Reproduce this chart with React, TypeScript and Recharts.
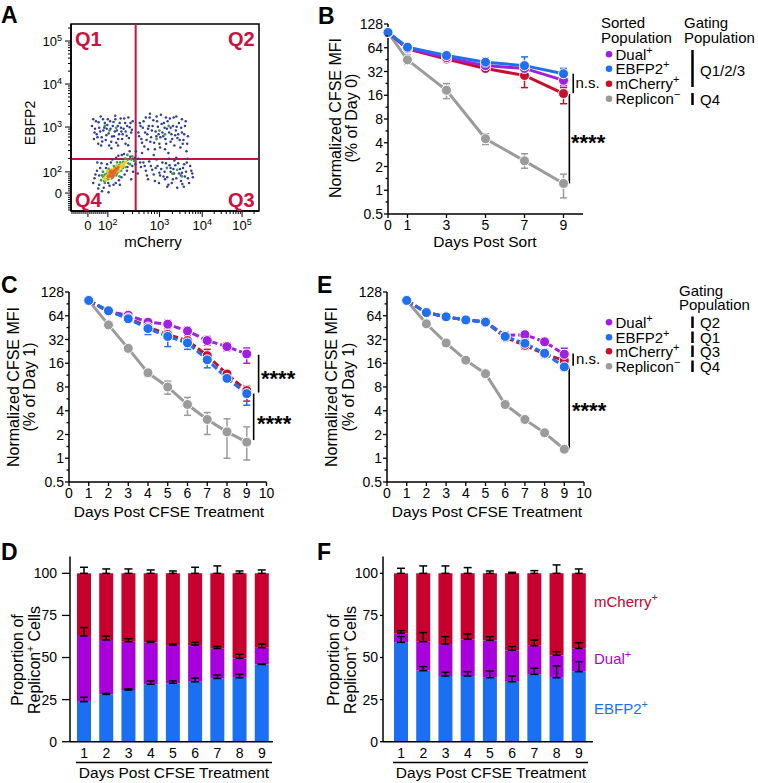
import React from "react";
import {
  LineChart,
  Line,
  XAxis,
  YAxis,
  ErrorBar,
  ReferenceLine,
  ReferenceArea,
  BarChart,
  Bar,
  ScatterChart,
  Scatter,
} from "recharts";

const FONT = "'Liberation Sans', Arial, Helvetica, sans-serif";

const PURPLE = "#a01fe0";
const BLUE = "#1f6ff0";
const RED = "#c8102e";
const GRAY = "#9b9b9b";
const BAR_RED = "#c8002d";
const BAR_PURPLE = "#a800dc";
const BAR_BLUE = "#1a6ff2";
const GATE = "#cc1040";

// ---- panel A: flow plot, biexponential display in channel units (0-1000)
const aXTicks = [90, 196, 471, 698, 910];
const aYTicks = [96, 209, 449, 679, 909];
const aTickExp = ["", "2", "3", "4", "5"];
const gateX = 344;
const gateY = 278;

const cellsBlue = [
  [112, 455], [125, 420], [133, 480], [141, 395], [150, 445], [158, 505], [166, 372], [172, 430],
  [180, 470], [188, 405], [196, 490], [203, 350], [210, 440], [218, 398], [226, 476], [233, 425],
  [241, 365], [249, 455], [256, 410], [264, 495], [272, 385], [280, 440], [288, 470], [296, 402],
  [304, 352], [312, 448], [320, 420], [328, 480], [145, 360], [235, 510], [190, 440], [268, 425],
  [305, 500], [122, 385], [215, 335],
  [128, 440], [137, 410], [147, 475], [155, 425], [163, 395], [170, 490], [177, 445], [185, 380],
  [193, 460], [200, 415], [208, 480], [214, 370], [222, 455], [229, 400], [236, 490], [244, 430],
  [251, 385], [259, 470], [266, 445], [275, 410], [283, 495], [291, 425], [299, 455], [308, 390],
  [316, 470], [324, 435], [118, 490], [160, 350], [250, 350], [290, 360],
  [358, 420], [366, 470], [374, 385], [382, 445], [390, 345], [398, 500], [406, 410], [414, 455],
  [422, 370], [430, 430], [438, 485], [446, 330], [454, 400], [462, 450], [470, 360], [478, 515],
  [486, 420], [494, 470], [502, 385], [510, 440], [518, 310], [526, 495], [534, 410], [542, 455],
  [550, 350], [558, 430], [566, 390], [574, 470], [582, 340], [590, 420], [598, 380], [606, 455],
  [614, 320], [622, 400], [440, 300], [500, 330], [560, 505], [420, 520], [475, 395], [530, 370],
  [362, 400], [370, 455], [378, 365], [386, 480], [394, 420], [402, 380], [410, 440], [418, 500],
  [426, 395], [434, 455], [442, 365], [450, 425], [458, 480], [466, 410], [474, 340], [482, 465],
  [490, 400], [498, 445], [506, 360], [514, 480], [522, 420], [530, 445], [538, 385], [546, 500],
  [554, 405], [562, 450], [570, 410], [578, 380], [586, 445], [594, 360], [602, 410], [610, 480],
  [618, 360], [455, 505], [505, 500], [410, 330], [590, 490],
  [385, 260], [398, 215], [410, 170], [425, 240], [440, 195], [455, 275], [468, 150], [480, 225],
  [492, 185], [505, 255], [518, 140], [530, 210], [542, 170], [555, 245], [565, 125], [575, 200],
  [585, 160], [596, 230], [606, 185], [616, 260], [628, 150], [640, 215], [648, 180], [520, 280],
  [560, 285], [600, 130], [470, 205], [545, 225], [590, 205], [500, 170],
  [392, 240], [404, 190], [416, 265], [432, 220], [446, 160], [460, 240], [474, 190], [486, 260],
  [498, 210], [512, 180], [524, 245], [536, 150], [548, 200], [560, 175], [570, 255], [580, 225],
  [592, 145], [602, 250], [612, 210], [622, 175], [634, 240], [645, 200], [512, 130], [550, 270],
  [620, 280], [450, 230], [585, 190], [530, 230],
  [118, 150], [130, 195], [145, 120], [155, 230], [165, 105], [178, 160], [192, 250], [205, 135],
  [220, 275], [238, 150], [252, 295], [268, 180], [282, 305], [298, 215], [312, 320], [326, 240],
  [340, 285], [355, 200], [368, 260], [378, 310], [200, 100], [260, 140], [320, 170], [140, 260],
  [345, 320],
  [125, 175], [138, 215], [150, 140], [162, 255], [174, 125], [186, 230], [198, 150], [212, 260],
  [226, 140], [240, 285], [255, 165], [270, 300], [285, 195], [300, 235], [315, 290], [330, 210],
  [342, 250], [358, 280], [372, 235], [150, 190],
];
const cellsGreen = [
  [160, 165], [172, 182], [180, 150], [190, 200], [198, 170], [208, 215], [222, 180], [232, 232],
  [244, 200], [256, 245], [266, 215], [278, 262], [290, 235], [302, 275], [314, 250], [326, 292],
  [336, 268], [170, 210], [258, 185], [300, 300],
  [165, 190], [185, 170], [200, 225], [215, 175], [228, 240], [240, 190], [252, 210], [262, 260],
  [275, 230], [288, 280], [305, 255], [320, 275], [180, 195], [245, 260],
  [205, 430], [240, 445], [180, 455], [470, 430], [500, 410], [520, 455], [455, 385], [540, 200],
  [565, 220], [590, 185], [510, 230],
];
const cellsYellow = [
  [178, 175], [190, 188], [200, 198], [212, 190], [224, 205], [236, 215], [248, 225], [260, 238],
  [272, 248], [284, 255], [206, 178], [230, 195], [195, 215], [245, 245], [292, 262],
  [185, 165], [198, 180], [222, 195], [240, 210], [255, 215], [268, 235], [280, 240], [215, 220],
  [228, 225], [205, 195],
];
const cellsOrange = [
  [200, 185], [214, 198], [226, 212], [238, 222], [250, 232], [218, 185], [232, 205], [208, 205],
  [210, 190], [222, 205], [235, 215], [245, 225], [225, 190], [212, 212],
];

// ---- panel B: days post sort
const bDays = [0, 1, 3, 5, 7, 9];
const bDual = [100, 63, 48, 38, 35, 24.7];
const bEbfp = [100, 65, 51, 42, 38, 30];
const bCherry = [100, 62, 46, 35, 28.5, 16.8];
const bRepl = [100, 45, 18.5, 4.5, 2.36, 1.22];
const bDualErr = [[0, 0], [3, 3], [4, 4], [3, 3], [5, 5], [3.5, 2.5]];
const bEbfpErr = [[0, 0], [3, 3], [4, 5], [5, 5], [7, 11], [3, 5]];
const bCherryErr = [[0, 0], [3, 3], [4, 4], [3, 3], [8.5, 8.5], [4.3, 3.2]];
const bReplErr = [[0, 0], [5, 7], [4, 4], [0.7, 0.7], [0.46, 0.54], [0.42, 0.38]];

// ---- panels C / E: days post CFSE treatment
const cfseDays = [1, 2, 3, 4, 5, 6, 7, 8, 9];
const cDual = [100, 72, 65, 53, 50, 41, 31, 26, 21];
const cEbfp = [100, 74, 58.7, 44, 35, 29, 17.7, 10.3, 6.6];
const cCherry = [100, 73, 60, 46, 37, 31, 20, 11.7, 7.2];
const cRepl = [100, 49, 24.7, 12.1, 8, 4.8, 3.1, 2.16, 1.6];
const cDualErr = [[0, 0], [5, 5], [4, 4], [5, 5], [6, 6], [5, 5], [4, 4], [3, 3], [5, 4]];
const cEbfpErr = [[0, 0], [4, 4], [4, 4], [7, 4], [9, 3], [5, 3], [3.7, 1.5], [0.8, 0.8], [1.9, 0.9]];
const cCherryErr = [[0, 0], [4, 4], [4, 4], [4, 4], [4, 4], [4, 4], [3, 4], [1, 1], [1.9, 1]];
const cReplErr = [[0, 0], [3, 3], [2.5, 2.5], [1.3, 1.3], [1.5, 1.5], [1.3, 1.1], [1.1, 0.7], [1.16, 1.0], [0.65, 0.9]];

const eDual = [100, 70, 62, 56.6, 53.5, 36, 36.8, 29.9, 20.8];
const eEbfp = [100, 70.3, 62, 56.6, 53.2, 35, 28.6, 21.4, 14.4];
const eCherry = [100, 70, 62, 56.6, 53.5, 34, 27, 21, 17.3];
const eRepl = [100, 50.6, 28.9, 17.5, 11.8, 4.8, 3.1, 2.1, 1.3];
const eDualErr = [[0, 0], [2, 2], [2, 2], [2, 2], [2, 2], [4, 4], [4, 4], [3, 3], [3, 4]];
const eEbfpErr = [[0, 0], [2, 2], [2, 2], [2, 2], [2, 2], [3, 3], [3, 3], [2.5, 2.5], [1.5, 1.5]];
const eCherryErr = [[0, 0], [2, 2], [2, 2], [2, 2], [2, 2], [3, 3], [3, 3], [2, 2], [1.5, 1.5]];
const eReplErr = [[0, 0], [2, 2], [1.5, 1.5], [1, 1], [0.6, 0.6], [0.5, 0.5], [0.3, 0.3], [0.2, 0.2], [0.08, 0.08]];

const logMajors = [0.5, 1, 2, 4, 8, 16, 32, 64, 128];
const logMinors = [0.71, 1.41, 2.83, 5.66, 11.3, 22.6, 45.3, 90.5];

// ---- panels D / F: stacked proportions (%)
const barDays = ["1", "2", "3", "4", "5", "6", "7", "8", "9"];
const dEbfp = [23.8, 28.1, 30.7, 34.1, 34.7, 35.6, 37.6, 38.0, 45.9];
const dDual = [39.0, 32.3, 28.7, 24.9, 22.7, 21.8, 17.8, 11.5, 9.9];
const dCherry = [37.2, 39.6, 40.6, 41.0, 42.6, 42.6, 44.6, 50.5, 44.2];
const dEbfpErr = [2.6, 0.6, 0.7, 2, 1.4, 2.2, 2, 2, 0.3];
const dDualErr = [5, 2.3, 1.8, 0.6, 0.6, 1.6, 1.2, 2.4, 2.2];
const dCherryErr = [3.6, 2.6, 2.6, 2, 1.4, 3.6, 4.4, 1.4, 2];

const fEbfp = [59.0, 42.2, 39.0, 39.0, 38.0, 35.6, 40.0, 38.0, 41.6];
const fDual = [5.4, 17.2, 19.0, 21.8, 22.2, 18.7, 17.0, 13.3, 13.8];
const fCherry = [35.6, 40.6, 42.0, 39.2, 39.8, 45.7, 43.0, 48.7, 44.6];
const fEbfpErr = [3.4, 2.4, 2.2, 2.6, 4, 3.4, 3.6, 7, 5.9];
const fDualErr = [1.6, 5.4, 4.4, 3.2, 2.2, 2.2, 3.4, 2.2, 3.4];
const fCherryErr = [3, 4.4, 4.4, 3.4, 1.4, 0.6, 1.6, 5, 2.6];

const legendNames = ["Dual", "EBFP2", "mCherry", "Replicon"];
const legendSups = ["+", "+", "+", "\u2212"];
const legendColors = [PURPLE, BLUE, RED, GRAY];

// -------------------------------------------------------------------------
const pairs = (a: number[][]) => a.map(([x, y]) => ({ x, y }));

function minorTicks(decades: number[], zero: number) {
  const out: number[] = [];
  const lin = decades[0] - zero;
  for (let m = -8; m <= 9; m++) {
    const v = zero + (lin * m) / 10;
    if (m !== 0 && v > 0 && v < decades[0]) out.push(v);
  }
  for (let k = 0; k < decades.length; k++) {
    const lo = decades[k];
    const span = k < decades.length - 1 ? decades[k + 1] - lo : decades[k] - decades[k - 1];
    for (let m = 2; m <= 9; m++) {
      const v = lo + Math.log10(m) * span;
      if (v < 1000) out.push(v);
    }
  }
  return out;
}
const aXAll = [...aXTicks, ...minorTicks([196, 471, 698, 910], 90)].sort((a, b) => a - b);
const aYAll = [...aYTicks, ...minorTicks([209, 449, 679, 909], 96)].sort((a, b) => a - b);

const FlowLabel = ({ i }: { i: number }) =>
  aTickExp[i] === "" ? (
    <>0</>
  ) : (
    <>
      <tspan>10</tspan>
      <tspan dy={-5} fontSize={9}>
        {aTickExp[i]}
      </tspan>
    </>
  );

const FlowXTick = (p: any) => {
  const i = aXTicks.indexOf(p.payload.value);
  const y = p.y - 1;
  return (
    <g>
      <line x1={p.x} x2={p.x} y1={y} y2={y + (i >= 0 ? 6 : 3)} stroke="#000" strokeWidth={1} />
      {i >= 0 && (
        <text x={p.x} y={y + 19} textAnchor="middle" fontSize={13} fontFamily={FONT} fill="#000">
          <FlowLabel i={i} />
        </text>
      )}
    </g>
  );
};

const FlowYTick = (p: any) => {
  const i = aYTicks.indexOf(p.payload.value);
  const x = p.x + 1;
  return (
    <g>
      <line x1={x - (i >= 0 ? 6 : 3)} x2={x} y1={p.y} y2={p.y} stroke="#000" strokeWidth={1} />
      {i >= 0 && (
        <text x={x - 9} y={p.y + 5} textAnchor="end" fontSize={13} fontFamily={FONT} fill="#000">
          <FlowLabel i={i} />
        </text>
      )}
    </g>
  );
};

const LogTick = (p: any) => {
  const v = p.payload.value;
  const major = logMajors.includes(v);
  const x = p.x + 1;
  return (
    <g>
      <line x1={x - (major ? 4 : 2.5)} x2={x} y1={p.y} y2={p.y} stroke="#000" strokeWidth={1.3} />
      {major && (
        <text x={x - 5} y={p.y} dy="0.36em" textAnchor="end" fontSize={14} fontFamily={FONT} fill="#000">
          {v}
        </text>
      )}
    </g>
  );
};

function FlowPanel() {
  return (
    <ScatterChart width={280} height={250} margin={{ top: 24, right: 21, bottom: 9, left: 0 }}>
      <XAxis
        type="number"
        dataKey="x"
        domain={[0, 1000]}
        ticks={aXAll}
        interval={0}
        height={30}
        tickSize={1}
        tickMargin={0}
        tickLine={false}
        axisLine={{ stroke: "#000", strokeWidth: 1.5 }}
        tick={(p: any) => <FlowXTick {...p} />}
      />
      <YAxis
        type="number"
        dataKey="y"
        domain={[0, 1000]}
        ticks={aYAll}
        interval={0}
        width={71}
        tickSize={1}
        tickMargin={0}
        tickLine={false}
        axisLine={{ stroke: "#000", strokeWidth: 1.5 }}
        tick={(p: any) => <FlowYTick {...p} />}
      />
      <ReferenceArea x1={0} x2={1000} y1={0} y2={1000} fill="none" stroke="#000" strokeWidth={1.5} />
      {[
        [cellsBlue, "#2c3f92", 1.25],
        [cellsGreen, "#3f9a52", 1.4],
        [cellsYellow, "#e6cf2a", 1.7],
        [cellsOrange, "#e8642a", 1.8],
      ].map(([cells, color, r], k) => (
        <Scatter
          key={k}
          data={pairs(cells as number[][])}
          isAnimationActive={false}
          shape={(s: any) => <circle cx={s.cx} cy={s.cy} r={r as number} fill={color as string} />}
        />
      ))}
      <ReferenceLine x={gateX} stroke={GATE} strokeWidth={2} />
      <ReferenceLine y={gateY} stroke={GATE} strokeWidth={2} />
    </ScatterChart>
  );
}

type Series = { key: string; vals: number[]; err: number[][]; color: string; dashed: boolean };

function LogLinePanel(props: {
  days: number[];
  series: Series[];
  xTicks: number[];
  segments: [number, number, number][];
  width: number;
  height: number;
  margin: { top: number; right: number; bottom: number; left: number };
}) {
  const rows = props.days.map((d, i) => {
    const r: any = { day: d };
    props.series.forEach((s) => {
      r[s.key] = s.vals[i];
      r[s.key + "E"] = s.err[i];
    });
    return r;
  });
  return (
    <LineChart width={props.width} height={props.height} data={rows} margin={props.margin}>
      <XAxis
        type="number"
        dataKey="day"
        domain={[0, 10]}
        ticks={props.xTicks}
        interval={0}
        height={props.height - props.margin.top - props.margin.bottom - 190}
        tickSize={4}
        tickMargin={2}
        axisLine={{ stroke: "#000", strokeWidth: 1.5 }}
        tickLine={{ stroke: "#000", strokeWidth: 1.3 }}
        tick={{ fill: "#000", fontSize: 14, fontFamily: FONT }}
      />
      <YAxis
        type="number"
        scale="log"
        domain={[0.5, 128]}
        ticks={[...logMajors, ...logMinors].sort((a, b) => a - b)}
        interval={0}
        allowDataOverflow
        width={60}
        tickSize={1}
        tickMargin={0}
        tickLine={false}
        axisLine={{ stroke: "#000", strokeWidth: 1.5 }}
        tick={(p: any) => <LogTick {...p} />}
      />
      {props.segments.map(([x, y1, y2], i) => (
        <ReferenceLine
          key={i}
          segment={[
            { x, y: y1 },
            { x, y: y2 },
          ]}
          stroke="#000"
          strokeWidth={1.6}
        />
      ))}
      {props.series.map((s) => (
        <Line
          key={s.key}
          dataKey={s.key}
          stroke={s.color}
          strokeWidth={3}
          strokeDasharray={s.dashed ? "7 3" : undefined}
          dot={{ r: 5, fill: s.color, stroke: "#fff", strokeWidth: 1, strokeDasharray: "" }}
          isAnimationActive={false}
        >
          <ErrorBar dataKey={s.key + "E"} width={3.5} stroke={s.color} strokeWidth={1.5} direction="y" />
        </Line>
      ))}
    </LineChart>
  );
}

function StackPanel(props: {
  ebfp: number[];
  dual: number[];
  cherry: number[];
  ebfpErr: number[];
  dualErr: number[];
  cherryErr: number[];
  margin: { top: number; right: number; bottom: number; left: number };
  padLeft: number;
  padRight: number;
  yTickSize: number;
  yTickMargin: number;
}) {
  const rows = barDays.map((d, i) => ({
    day: d,
    ebfp: props.ebfp[i],
    dual: props.dual[i],
    cherry: props.cherry[i],
    ebfpE: [0, props.ebfpErr[i]],
    dualE: [0, props.dualErr[i]],
    cherryE: [0, props.cherryErr[i]],
  }));
  return (
    <BarChart width={300} height={243} data={rows} margin={props.margin} barSize={14}>
      <XAxis
        dataKey="day"
        padding={{ left: props.padLeft, right: props.padRight }}
        interval={0}
        height={30}
        tickSize={1}
        tickMargin={5}
        tickLine={false}
        axisLine={{ stroke: "#000", strokeWidth: 1.5 }}
        tick={{ fill: "#000", fontSize: 14, fontFamily: FONT }}
      />
      <YAxis
        type="number"
        domain={[0, 110]}
        ticks={[0, 25, 50, 75, 100]}
        interval={0}
        width={60}
        tickSize={props.yTickSize}
        tickMargin={props.yTickMargin}
        axisLine={{ stroke: "#000", strokeWidth: 1.5 }}
        tickLine={{ stroke: "#000", strokeWidth: 1.3 }}
        tick={{ fill: "#000", fontSize: 14, fontFamily: FONT }}
      />
      <Bar dataKey="ebfp" stackId="s" fill={BAR_BLUE} isAnimationActive={false}>
        <ErrorBar dataKey="ebfpE" width={4} stroke="#000" strokeWidth={1.5} direction="y" />
      </Bar>
      <Bar dataKey="dual" stackId="s" fill={BAR_PURPLE} isAnimationActive={false}>
        <ErrorBar dataKey="dualE" width={4} stroke="#000" strokeWidth={1.5} direction="y" />
      </Bar>
      <Bar dataKey="cherry" stackId="s" fill={BAR_RED} isAnimationActive={false}>
        <ErrorBar dataKey="cherryE" width={4} stroke="#000" strokeWidth={1.5} direction="y" />
      </Bar>
    </BarChart>
  );
}

const VText = ({ x, y, children, size = 16 }: any) => (
  <text x={x} y={y} transform={`rotate(-90 ${x} ${y})`} textAnchor="middle" dy="0.35em" fontSize={size}>
    {children}
  </text>
);

const Sup = ({ s, size = 11, after }: { s: string; size?: number; after?: string }) => (
  <>
    <tspan dy={-6} fontSize={size}>
      {s}
    </tspan>
    {after !== undefined && <tspan dy={6}>{after}</tspan>}
  </>
);

function LegendRows({ ys }: { ys: number[] }) {
  return (
    <>
      {legendNames.map((n, i) => (
        <g key={n}>
          <circle cx={609} cy={ys[i] - 5.2} r={3.3} fill={legendColors[i]} />
          <text x={615.5} y={ys[i]} fontSize={15}>
            {n}
            <Sup s={legendSups[i]} />
          </text>
        </g>
      ))}
    </>
  );
}

function Overlay() {
  const eRows = [327.5, 342.5, 356.5, 371.5];
  const eGates = ["Q2", "Q1", "Q3", "Q4"];
  return (
    <svg
      width={758}
      height={783}
      style={{ position: "absolute", left: 0, top: 0, pointerEvents: "none" }}
      fontFamily={FONT}
      fill="#000"
    >
      {/* panel letters */}
      <g fontSize={23} fontWeight="bold">
        <text x={1} y={23}>A</text>
        <text x={318} y={24}>B</text>
        <text x={1} y={293}>C</text>
        <text x={317} y={293}>E</text>
        <text x={1} y={560}>D</text>
        <text x={317} y={560}>F</text>
      </g>

      {/* A */}
      <VText x={30} y={123} size={14}>EBFP2</VText>
      <text x={153} y={247} textAnchor="middle" fontSize={15}>mCherry</text>
      <g fontSize={20} fontWeight="bold" fill={GATE}>
        <text x={75} y={46}>Q1</text>
        <text x={228} y={46}>Q2</text>
        <text x={75} y={207}>Q4</text>
        <text x={228} y={207}>Q3</text>
      </g>

      {/* B */}
      <VText x={335} y={118}>Normalized CFSE MFI</VText>
      <VText x={351} y={118}>(% of Day 0)</VText>
      <text x={485} y={247} textAnchor="middle" fontSize={15.5}>Days Post Sort</text>
      <text x={575.5} y={88} fontSize={15}>n.s.</text>
      <text x={571} y={150} fontSize={22} fontWeight="bold">****</text>
      <g fontSize={15}>
        <text x={601} y={28}>Sorted</text>
        <text x={601} y={43}>Population</text>
        <text x={684} y={28}>Gating</text>
        <text x={684} y={43}>Population</text>
        <text x={700} y={75.5}>Q1/2/3</text>
        <text x={700} y={104.5}>Q4</text>
      </g>
      <line x1={692.5} x2={692.5} y1={50} y2={87} stroke="#000" strokeWidth={2.5} />
      <line x1={692.5} x2={692.5} y1={93} y2={105} stroke="#000" strokeWidth={2.5} />
      <LegendRows ys={[59.5, 74, 89, 104]} />

      {/* C */}
      <VText x={13} y={387}>Normalized CFSE MFI</VText>
      <VText x={29} y={387}>(% of Day 1)</VText>
      <text x={169} y={517} textAnchor="middle" fontSize={15.5}>Days Post CFSE Treatment</text>
      <text x={261} y={386} fontSize={22} fontWeight="bold">****</text>
      <text x={257} y={431} fontSize={22} fontWeight="bold">****</text>

      {/* E */}
      <VText x={331} y={387}>Normalized CFSE MFI</VText>
      <VText x={348} y={387}>(% of Day 1)</VText>
      <text x={487} y={517} textAnchor="middle" fontSize={15.5}>Days Post CFSE Treatment</text>
      <text x={576} y={363.5} fontSize={15}>n.s.</text>
      <text x={572} y={417.5} fontSize={22} fontWeight="bold">****</text>
      <g fontSize={15}>
        <text x={679} y={296}>Gating</text>
        <text x={679} y={310}>Population</text>
        {eGates.map((q, i) => (
          <g key={q}>
            <line x1={692.5} x2={692.5} y1={eRows[i] - 11} y2={eRows[i] + 0.5} stroke="#000" strokeWidth={2.5} />
            <text x={700} y={eRows[i]}>{q}</text>
          </g>
        ))}
      </g>
      <LegendRows ys={eRows} />

      {/* D */}
      <VText x={17} y={660}>Proportion of</VText>
      <VText x={34} y={660}>
        Replicon<Sup s="+" size={10} after=" Cells" />
      </VText>
      <line x1={76} x2={272} y1={762.5} y2={762.5} stroke="#000" strokeWidth={1.3} />
      <text x={174} y={778} textAnchor="middle" fontSize={15.5}>Days Post CFSE Treatment</text>

      {/* F */}
      <VText x={333} y={660}>Proportion of</VText>
      <VText x={350} y={660}>
        Replicon<Sup s="+" size={10} after=" Cells" />
      </VText>
      <line x1={393} x2={588} y1={762.5} y2={762.5} stroke="#000" strokeWidth={1.3} />
      <text x={491} y={778} textAnchor="middle" fontSize={15.5}>Days Post CFSE Treatment</text>
      <g fontSize={15}>
        <text x={594} y={607} fill={BAR_RED}>
          mCherry<Sup s="+" />
        </text>
        <text x={594} y={664} fill={BAR_PURPLE}>
          Dual<Sup s="+" />
        </text>
        <text x={594} y={714} fill={BAR_BLUE}>
          EBFP2<Sup s="+" />
        </text>
      </g>
    </svg>
  );
}

export default function App() {
  const bSeries: Series[] = [
    { key: "repl", vals: bRepl, err: bReplErr, color: GRAY, dashed: false },
    { key: "cherry", vals: bCherry, err: bCherryErr, color: RED, dashed: false },
    { key: "dual", vals: bDual, err: bDualErr, color: PURPLE, dashed: false },
    { key: "ebfp", vals: bEbfp, err: bEbfpErr, color: BLUE, dashed: false },
  ];
  const cSeries: Series[] = [
    { key: "repl", vals: cRepl, err: cReplErr, color: GRAY, dashed: false },
    { key: "dual", vals: cDual, err: cDualErr, color: PURPLE, dashed: true },
    { key: "cherry", vals: cCherry, err: cCherryErr, color: RED, dashed: true },
    { key: "ebfp", vals: cEbfp, err: cEbfpErr, color: BLUE, dashed: true },
  ];
  const eSeries: Series[] = [
    { key: "repl", vals: eRepl, err: eReplErr, color: GRAY, dashed: false },
    { key: "cherry", vals: eCherry, err: eCherryErr, color: RED, dashed: true },
    { key: "dual", vals: eDual, err: eDualErr, color: PURPLE, dashed: true },
    { key: "ebfp", vals: eEbfp, err: eEbfpErr, color: BLUE, dashed: true },
  ];
  return (
    <div
      style={{
        position: "absolute",
        left: 0,
        top: 0,
        width: 758,
        height: 783,
        background: "#fff",
        fontFamily: FONT,
        overflow: "hidden",
      }}
    >
      <div style={{ position: "absolute", left: 0, top: 0 }}>
        <FlowPanel />
      </div>
      <div style={{ position: "absolute", left: 290, top: 0 }}>
        <LogLinePanel
          days={bDays}
          series={bSeries}
          xTicks={[0, 1, 3, 5, 7, 9]}
          segments={[
            [9.5, 17, 30],
            [9.3, 1.22, 16.6],
          ]}
          width={310}
          height={250}
          margin={{ top: 24, right: 17, bottom: 6, left: 38 }}
        />
      </div>
      <div style={{ position: "absolute", left: 0, top: 270 }}>
        <LogLinePanel
          days={cfseDays}
          series={cSeries}
          xTicks={[0, 1, 2, 3, 4, 5, 6, 7, 8, 9, 10]}
          segments={[
            [9.6, 6.8, 20.5],
            [9.35, 1.7, 6.6],
          ]}
          width={300}
          height={240}
          margin={{ top: 22, right: 33.5, bottom: 2, left: 9 }}
        />
      </div>
      <div style={{ position: "absolute", left: 318, top: 270 }}>
        <LogLinePanel
          days={cfseDays}
          series={eSeries}
          xTicks={[0, 1, 2, 3, 4, 5, 6, 7, 8, 9, 10]}
          segments={[
            [9.45, 14.9, 21.2],
            [9.25, 1.3, 14.5],
          ]}
          width={300}
          height={240}
          margin={{ top: 22, right: 34, bottom: 2, left: 9 }}
        />
      </div>
      <div style={{ position: "absolute", left: 0, top: 540 }}>
        <StackPanel
          ebfp={dEbfp}
          dual={dDual}
          cherry={dCherry}
          ebfpErr={dEbfpErr}
          dualErr={dDualErr}
          cherryErr={dCherryErr}
          margin={{ top: 16.5, right: 27, bottom: 11.3, left: 10 }}
          padLeft={3}
          padRight={0}
          yTickSize={8}
          yTickMargin={5}
        />
      </div>
      <div style={{ position: "absolute", left: 318, top: 540 }}>
        <StackPanel
          ebfp={fEbfp}
          dual={fDual}
          cherry={fCherry}
          ebfpErr={fEbfpErr}
          dualErr={fDualErr}
          cherryErr={fCherryErr}
          margin={{ top: 16.5, right: 25, bottom: 11.3, left: 5 }}
          padLeft={7}
          padRight={3}
          yTickSize={3}
          yTickMargin={2}
        />
      </div>
      <Overlay />
    </div>
  );
}
